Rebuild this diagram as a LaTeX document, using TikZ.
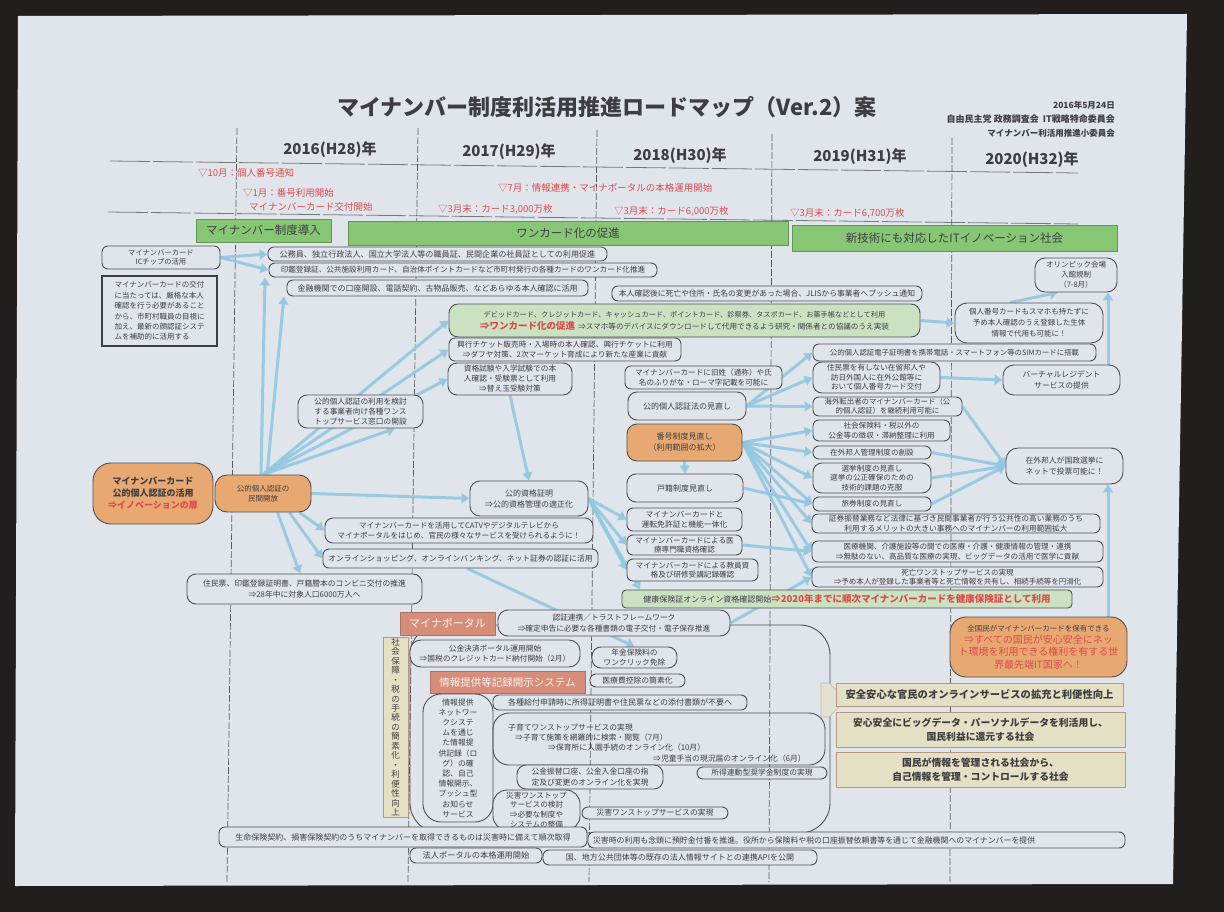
\documentclass[tikz,border=0pt]{standalone}
\usepackage{fontspec}
\setmainfont{Noto Sans CJK JP}
\usetikzlibrary{arrows.meta,shapes.arrows}
\pgfdeclarelayer{bg}
\pgfsetlayers{bg,main}
\definecolor{paper}{RGB}{224,229,236}
\definecolor{darkbg}{RGB}{34,30,30}
\definecolor{ink}{RGB}{62,62,66}
\definecolor{boxc}{RGB}{80,80,84}
\definecolor{gbar}{RGB}{134,198,116}
\definecolor{pgreen}{RGB}{202,226,194}
\definecolor{orng}{RGB}{232,168,114}
\definecolor{salmon}{RGB}{214,142,122}
\definecolor{cream}{RGB}{228,224,196}
\definecolor{creamb}{RGB}{184,150,130}
\definecolor{redt}{RGB}{222,74,74}
\definecolor{arrowc}{RGB}{145,200,225}
\newcommand\fs[2]{\fontsize{#1}{#2}\selectfont}
\newcommand\rbx[7]{%
  \pgfmathsetmacro\bxw{#4-#2}%
  \pgfmathsetmacro\bxh{#5-#3}%
  \pgfmathsetmacro\bxcx{(#2+#4)/2}%
  \pgfmathsetmacro\bxcy{(#3+#5)/2}%
  \node[#6, minimum width=\bxw pt, minimum height=\bxh pt] (#1) at (\bxcx,\bxcy) {#7};}
\begin{document}
\begin{tikzpicture}[x=1pt,y=-1pt,
  rbox/.style={draw=boxc, line width=0.9pt, rounded corners=6pt, fill=paper, align=center, inner sep=0pt, text=ink, font=\fs{8}{10}},
  obox/.style={rbox, fill=orng, rounded corners=12pt},
  gbarst/.style={fill=gbar, draw=gbar!75!black, line width=0.4pt, inner sep=0pt, text=ink, font=\fs{11.5}{13}},
  sbox/.style={fill=salmon, draw=salmon!80!black, line width=0.4pt, inner sep=0pt, text=white!88!salmon, font=\fs{11}{13}},
  cbox/.style={fill=cream, draw=creamb, line width=1pt, inner sep=0pt, align=center, text=ink, font=\fs{10}{13}\bfseries},
  redtxt/.style={text=redt, font=\fs{9.5}{11}, inner sep=0pt, anchor=west},
  plain/.style={text=ink, inner sep=0pt, anchor=west, font=\fs{7.8}{10}},
  yline/.style={draw=ink!85, line width=0.7pt, dash pattern=on 7pt off 2pt},
  hline/.style={draw=ink!70, line width=0.8pt, dash pattern=on 40pt off 3pt},
  arr/.style={draw=arrowc, line width=3pt, opacity=0.9, -{Triangle[width=10pt,length=8pt]}}
]
\useasboundingbox (0,0) rectangle (1224,912);
\begin{pgfonlayer}{bg}
  \fill[darkbg] (0,0) rectangle (1224,912);
  \fill[paper] (18,16) -- (1187,14) -- (1173,884) -- (15,886) -- cycle;
  \draw[hline] (110,161) -- (1078,173);
  \draw[hline] (108,212) -- (1078,224);
  \draw[yline] (237,128) -- (227,882);
  \draw[yline] (418,128) -- (408,882);
  \draw[yline] (597,130) -- (589,882);
  \draw[yline] (772,134) -- (769,882);
  \draw[yline] (952,138) -- (950,882);
\end{pgfonlayer}

% ---------- header ----------
\node[text=ink, font=\fs{22}{24}\bfseries] (title) at (607,107) {マイナンバー制度利活用推進ロードマップ（Ver.2）案};
\node[text=ink, anchor=east, inner sep=0pt, font=\fs{8.5}{10}\bfseries] (date) at (1115,105) {2016年5月24日};
\node[text=ink, anchor=east, inner sep=0pt, font=\fs{9}{10}\bfseries] (org1) at (1115,119) {自由民主党\ 政務調査会\ \ IT戦略特命委員会};
\node[text=ink, anchor=east, inner sep=0pt, font=\fs{8.5}{10}\bfseries] (org2) at (1115,133) {マイナンバー利活用推進小委員会};

\node[text=ink, font=\fs{15}{17}\bfseries] (y16) at (330,150) {2016(H28)年};
\node[text=ink, font=\fs{15}{17}\bfseries] (y17) at (509,152) {2017(H29)年};
\node[text=ink, font=\fs{15}{17}\bfseries] (y18) at (680,156) {2018(H30)年};
\node[text=ink, font=\fs{15}{17}\bfseries] (y19) at (860,157) {2019(H31)年};
\node[text=ink, font=\fs{15}{17}\bfseries] (y20) at (1032,160) {2020(H32)年};

\node[redtxt] (m1) at (198,173) {▽10月：個人番号通知};
\node[redtxt] (m2) at (243,193) {▽1月：番号利用開始};
\node[redtxt] (m3) at (249,207) {マイナンバーカード交付開始};
\node[redtxt] (m4) at (438,209) {▽3月末：カード3,000万枚};
\node[redtxt] (m5) at (498,188) {▽7月：情報連携・マイナポータルの本格運用開始};
\node[redtxt] (m6) at (614,211) {▽3月末：カード6,000万枚};
\node[redtxt] (m7) at (790,213) {▽3月末：カード6,700万枚};

\rbx{bar1}{196}{219}{331}{242}{gbarst}{マイナンバー制度導入}
\rbx{bar2}{348}{221}{788}{245}{gbarst}{ワンカード化の促進}
\rbx{bar3}{792}{225}{1117}{251}{gbarst}{新技術にも対応したITイノベーション社会}

% ---------- left column ----------
\rbx{ic}{102}{246}{220}{269}{rbox, font=\fs{7.3}{9.5}}{マイナンバーカード\\ICチップの活用}
\rbx{thick}{102}{276}{217}{346}{rbox, rounded corners=0pt, line width=2.2pt, draw=ink, align=left, font=\fs{7.5}{10.4}}{マイナンバーカードの交付\\に当たっては、厳格な本人\\確認を行う必要があること\\から、市町村職員の目視に\\加え、最新の顔認証システ\\ムを補助的に活用する}
\rbx{kirifuda}{93}{463}{213}{524}{obox, rounded corners=18pt, font=\fs{9}{12}\bfseries}{マイナンバーカード\\公的個人認証の活用\\{\color{redt}⇒イノベーションの扉}}
\rbx{minkan}{215}{475}{311}{512}{obox, font=\fs{7.5}{10}}{公的個人認証の\\民間開放}

% ---------- 2016-2018 rows ----------
\rbx{kom}{268}{247}{607}{261}{rbox, font=\fs{8.1}{10}}{公務員、独立行政法人、国立大学法人等の職員証、民間企業の社員証としての利用促進}
\rbx{inkan}{269}{263}{657}{277}{rbox, font=\fs{7.6}{10}}{印鑑登録証、公共施設利用カード、自治体ポイントカードなど市町村発行の各種カードのワンカード化推進}
\rbx{kinyu}{287}{280}{588}{296}{rbox, font=\fs{8}{10}}{金融機関での口座開設、電話契約、古物品販売、などあらゆる本人確認に活用}
\rbx{honnin}{612}{286}{922}{301}{rbox, font=\fs{7.8}{10}}{本人確認後に死亡や住所・氏名の変更があった場合、JLISから事業者へプッシュ通知}
\rbx{debit}{449}{304}{920}{337}{rbox, fill=pgreen, rounded corners=9pt, font=\fs{7.2}{12}}{デビッドカード、クレジットカード、キャッシュカード、ポイントカード、診察券、タスポカード、お薬手帳などとして利用\\{\color{redt}\bfseries\fs{9.5}{12}⇒ワンカード化の促進}\ \ {\fs{7.6}{12}⇒スマホ等のデバイスにダウンロードして代用できるよう研究・関係者との協議のうえ実装}}
\rbx{kogyo}{449}{338}{681}{361}{rbox, font=\fs{7.7}{10.5}}{興行チケット販売時・入場時の本人確認、興行チケットに利用\\⇒ダフヤ対策、2次マーケット育成により新たな産業に貢献}
\rbx{shikaku}{448}{363}{572}{395}{rbox, rounded corners=9pt, font=\fs{7.7}{10}}{資格試験や入学試験での本\\人確認・受験票として利用\\⇒替え玉受験対策}
\rbx{onestop}{298}{395}{423}{428}{rbox, rounded corners=9pt, font=\fs{7.7}{10}}{公的個人認証の利用を検討\\する事業者向け各種ワンス\\トップサービス窓口の開設}
\rbx{koteki}{470}{481}{588}{516}{rbox, rounded corners=10pt, font=\fs{8}{11}}{公的資格証明\\⇒公的資格管理の適正化}
\rbx{catv}{325}{518}{593}{543}{rbox, rounded corners=8pt, font=\fs{7.6}{10.5}}{マイナンバーカードを活用してCATVやデジタルテレビから\\マイナポータルをはじめ、官民の様々なサービスを受けられるように！}
\rbx{online}{323}{549}{598}{568}{rbox, font=\fs{7.8}{10}}{オンラインショッピング、オンラインバンキング、ネット証券の認証に活用}
\rbx{jumin}{187}{574}{422}{604}{rbox, rounded corners=9pt, font=\fs{7.8}{11}}{住民票、印鑑登録証明書、戸籍謄本のコンビニ交付の推進\\⇒28年中に対象人口6000万人へ}

% ---------- 2018 column ----------
\rbx{kyusei}{625}{366}{782}{389}{rbox, font=\fs{7.6}{10}}{マイナンバーカードに旧姓（通称）や氏\\名のふりがな・ローマ字記載を可能に}
\rbx{jpki}{628}{392}{746}{420}{rbox, rounded corners=9pt, font=\fs{8}{10}}{公的個人認証法の見直し}
\rbx{bango}{627}{424}{742}{461}{obox, rounded corners=10pt, font=\fs{8}{11}}{番号制度見直し\\（利用範囲の拡大）}
\rbx{koseki}{627}{474}{743}{502}{rbox, rounded corners=9pt, font=\fs{8}{10}}{戸籍制度見直し}
\rbx{unten}{627}{508}{742}{531}{rbox, font=\fs{7.8}{10}}{マイナンバーカードと\\運転免許証と機能一体化}
\rbx{iryo}{627}{535}{742}{555}{rbox, font=\fs{7.6}{9.5}}{マイナンバーカードによる医\\療専門職資格確認}
\rbx{kyoin}{627}{559}{758}{581}{rbox, font=\fs{7.6}{9.5}}{マイナンバーカードによる教員資\\格及び研修受講記録確認}
\rbx{health}{622}{590}{1072}{608}{rbox, fill=pgreen, rounded corners=4pt, font=\fs{8}{10}}{健康保険証オンライン資格確認開始{\color{redt}\bfseries\fs{9.5}{11}⇒2020年までに順次マイナンバーカードを健康保険証として利用}}

% ---------- 2019 column ----------
\rbx{sim}{813}{344}{1096}{361}{rbox, font=\fs{7.4}{10}}{公的個人認証電子証明書を携帯電話・スマートフォン等のSIMカードに搭載}
\rbx{zaigai}{813}{362}{940}{393}{rbox, rounded corners=9pt, font=\fs{7.6}{9.6}}{住民票を有しない在留邦人や\\訪日外国人に在外公館等に\\おいて個人番号カード交付}
\rbx{kaigai}{813}{397}{962}{416}{rbox, font=\fs{7.4}{8.8}}{海外転出者のマイナンバーカード（公\\的個人認証）を継続利用可能に}
\rbx{shakai}{813}{420}{950}{441}{rbox, font=\fs{7.6}{9.5}}{社会保険料・税以外の\\公金等の徴収・滞納整理に利用}
\rbx{kanri}{813}{446}{931}{459}{rbox, font=\fs{7.6}{9.5}}{在外邦人管理制度の創設}
\rbx{senkyo}{813}{463}{931}{493}{rbox, rounded corners=9pt, font=\fs{7.6}{9.4}}{選挙制度の見直し\\選挙の公正確保のための\\技術的課題の克服}
\rbx{ryoken}{813}{497}{931}{511}{rbox, font=\fs{7.6}{9.5}}{旅券制度の見直し}
\rbx{shoken}{812}{514}{1100}{533}{rbox, font=\fs{7.7}{9.4}}{証券振替業務など法律に基づき民間事業者が行う公共性の高い業務のうち\\利用するメリットの大きい事務へのマイナンバーの利用範囲拡大}
\rbx{kikan}{812}{541}{1103}{562}{rbox, font=\fs{7.6}{9.8}}{医療機関、介護施設等の間での医療・介護・健康情報の管理・連携\\⇒無駄のない、高品質な医療の実現、ビッグデータの活用で医学に貢献}
\rbx{shibo}{812}{567}{1103}{587}{rbox, font=\fs{7.5}{9.6}}{死亡ワンストップサービスの実現\\⇒予め本人が登録した事業者等と死亡情報を共有し、相続手続等を円滑化}

% ---------- 2020 column ----------
\rbx{olymp}{1035}{258}{1117}{292}{rbox, rounded corners=10pt, font=\fs{7.5}{10}}{オリンピック会場\\入館規制\\（7-8月）}
\rbx{bio}{955}{303}{1103}{343}{rbox, rounded corners=12pt, font=\fs{7.5}{11}}{個人番号カードもスマホも持たずに\\予め本人確認のうえ登録した生体\\情報で代用も可能に！}
\rbx{virtual}{1003}{365}{1120}{395}{rbox, rounded corners=11pt, font=\fs{7.8}{11}}{バーチャルレジデント\\サービスの提供}
\rbx{vote}{1006}{448}{1123}{484}{rbox, rounded corners=12pt, font=\fs{7.8}{11}}{在外邦人が国政選挙に\\ネットで投票可能に！}
\rbx{allcit}{950}{617}{1127}{677}{obox, rounded corners=16pt, font=\fs{10}{12.4}}{{\fs{7.5}{12.4}全国民がマイナンバーカードを保有できる}\\{\color{redt}⇒すべての国民が安心安全にネッ}\\{\color{redt}ト環境を利用できる権利を有する世}\\{\color{redt}界最先端IT国家へ！}}

% ---------- bottom area ----------
\draw[draw=boxc, line width=0.9pt, rounded corners=30pt] (410,625) rectangle (830,833);
\rbx{portal}{400}{612}{495}{635}{sbox}{マイナポータル}
\rbx{ninsho}{498}{610}{730}{636}{rbox, rounded corners=10pt, font=\fs{7.7}{10.5}}{認証連携／トラストフレームワーク\\⇒確定申告に必要な各種書類の電子交付・電子保存推進}
\rbx{vert}{383}{637}{408}{817}{cbox, font=\fs{8.5}{9.45}}{社\\会\\保\\障\\・\\税\\の\\手\\続\\の\\簡\\素\\化\\・\\利\\便\\性\\向\\上}
\rbx{kokin}{410}{640}{580}{667}{rbox, rounded corners=11pt, font=\fs{7.7}{10.5}}{公金決済ポータル運用開始\\⇒国税のクレジットカード納付開始（2月）}
\rbx{nenkin}{592}{647}{677}{668}{rbox, rounded corners=9pt, font=\fs{7.7}{10}}{年金保険料の\\ワンクリック免除}
\rbx{joho}{430}{671}{585}{693}{sbox, font=\fs{10.5}{12}}{情報提供等記録開示システム}
\rbx{iryohi}{590}{674}{685}{687}{rbox, font=\fs{7.8}{10}}{医療費控除の簡素化}
\rbx{netbox}{423}{694}{493}{822}{rbox, rounded corners=18pt, font=\fs{7.8}{10.2}}{情報提供\\ネットワー\\クシステ\\ムを通じ\\た情報提\\供記録（ロ\\グ）の確\\認、自己\\情報開示、\\プッシュ型\\お知らせ\\サービス}
\rbx{kakushu}{493}{695}{747}{710}{rbox, font=\fs{8}{10}}{各種給付申請時に所得証明書や住民票などの添付書類が不要へ}
\rbx{kosodate}{493}{713}{825}{765}{rbox, fill=none, rounded corners=16pt}{}
\node[plain] (ks1) at (508,728) {子育てワンストップサービスの実現};
\node[plain] (ks2) at (515,738) {⇒子育て施策を網羅的に検索・閲覧（7月）};
\node[plain] (ks3) at (548,748) {⇒保育所に入園手続のオンライン化（10月）};
\node[plain] (ks4) at (653,759) {⇒児童手当の現況届のオンライン化（6月）};
\rbx{shotoku}{697}{767}{827}{779}{rbox, font=\fs{7.8}{10}}{所得連動型奨学金制度の実現}
\rbx{kofuri}{517}{765}{663}{789}{rbox, rounded corners=9pt, font=\fs{7.8}{10.5}}{公金振替口座、公金入金口座の指\\定及び変更のオンライン化を実現}
\rbx{saigai}{493}{790}{580}{830}{rbox, rounded corners=14pt, font=\fs{7.6}{9.8}}{災害ワンストップ\\サービスの検討\\⇒必要な制度や\\システムの整備}
\rbx{saigai2}{582}{807}{728}{819}{rbox, font=\fs{7.8}{10}}{災害ワンストップサービスの実現}
\rbx{seimei}{219}{827}{587}{847}{rbox, font=\fs{8}{10}}{生命保険契約、損害保険契約のうちマイナンバーを取得できるものは災害時に備えて順次取得}
\node[rbox, minimum height=16pt, text width=527pt, inner xsep=5pt, align=left, font=\fs{7.9}{10}] (saigaiji) at (856.5,840) {災害時の利用も念頭に預貯金付番を推進。役所から保険料や税の口座振替依頼書等を通じて金融機関へのマイナンバーを提供};
\rbx{hojin}{410}{848}{542}{863}{rbox, font=\fs{8.2}{10}}{法人ポータルの本格運用開始}
\rbx{kuni}{543}{850}{817}{865}{rbox, font=\fs{8}{10}}{国、地方公共団体等の既存の法人情報サイトとの連携APIを公開}

\node[single arrow, fill=cream!70!paper, draw=creamb!60!paper, line width=0.6pt, minimum height=25pt, minimum width=34pt, single arrow head extend=0pt, inner sep=0pt] (barrow) at (825,700) {};
\rbx{c1}{836}{683}{1123}{706}{cbox, font=\fs{10.3}{13}\bfseries}{安全安心な官民のオンラインサービスの拡充と利便性向上}
\rbx{c2}{836}{712}{1125}{747}{cbox, font=\fs{9.8}{13.5}\bfseries}{安心安全にビッグデータ・パーソナルデータを利活用し、\\国民利益に還元する社会}
\rbx{c3}{836}{752}{1125}{787}{cbox, font=\fs{9.8}{13.5}\bfseries}{国民が情報を管理される社会から、\\自己情報を管理・コントロールする社会}

% ---------- connectors ----------
\begin{pgfonlayer}{bg}
  \draw[arr] (ic.east) -- (kom.west);
  \draw[arr] (ic.east) -- (inkan.west);
  \draw[arr] ([xshift=-2pt]minkan.north) -- (265,0 |- inkan.south);
  \draw[arr] ([xshift=4pt]minkan.north) -- (284,0 |- kinyu.south);
  \draw[arr] (minkan.north) -- (395,0 |- onestop.south);
  \draw[arr] (minkan.north) -- (debit.west);
  \draw[arr] (minkan.north) -- (kogyo.west);
  \draw[arr] (minkan.north) -- (shikaku.west);
  \draw[arr] (minkan.east) -- (koteki.west);
  \draw[arr] ([xshift=-12pt]minkan.south east) -- (catv.west);
  \draw[arr] ([xshift=-22pt]minkan.south east) -- (online.west);
  \draw[arr] ([xshift=-34pt]minkan.south east) -- (300,0 |- jumin.north);
  \draw[arr] (shikaku.south) -- (koteki.north);
  \draw[arr] (koteki.east) -- (unten.west);
  \draw[arr] (koteki.east) -- (iryo.west);
  \draw[arr] (koteki.east) -- (kyoin.west);
  \draw[arr] (koteki.east) -- (640,0 |- health.north);
  \draw[arr] (467,0 |- online.south) -- (nenkin.north);
  \draw[arr] (ninsho.east) -- (shibo.west);
  \draw[arr] (jpki.east) -- (sim.west);
  \draw[arr] (jpki.east) -- (zaigai.west);
  \draw[arr] (jpki.east) -- (kaigai.west);
  \draw[arr] (bango.south) -- (koseki.north);
  \draw[arr] (bango.east) -- (shakai.west);
  \draw[arr] (bango.east) -- (kanri.west);
  \draw[arr] (bango.east) -- (senkyo.west);
  \draw[arr] (bango.east) -- (ryoken.west);
  \draw[arr] (bango.east) -- (shoken.west);
  \draw[arr] (bango.east) -- (kikan.west);
  \draw[arr] (bango.east) -- (shibo.west);
  \draw[arr] (koseki.east) -- (ryoken.west);
  \draw[arr] (iryo.east) -- (kikan.west);
  \draw[arr] (zaigai.east) -- (virtual.west);
  \draw[arr] (kaigai.east) -- (vote.west);
  \draw[arr] (kanri.east) -- (vote.west);
  \draw[arr] (senkyo.east) -- (vote.west);
  \draw[arr] (ryoken.east) -- (vote.west);
  \draw[arr] (1108,0 |- allcit.north) -- (1108,0 |- vote.south);
  \draw[arr] (1108,0 |- virtual.north) -- (1108,0 |- olymp.south);
  \draw[arr] (debit.east) -- (bio.west);
  \draw[arr] (1010,0 |- bio.north) -- (1058,0 |- olymp.south);
\end{pgfonlayer}
\end{tikzpicture}
\end{document}
